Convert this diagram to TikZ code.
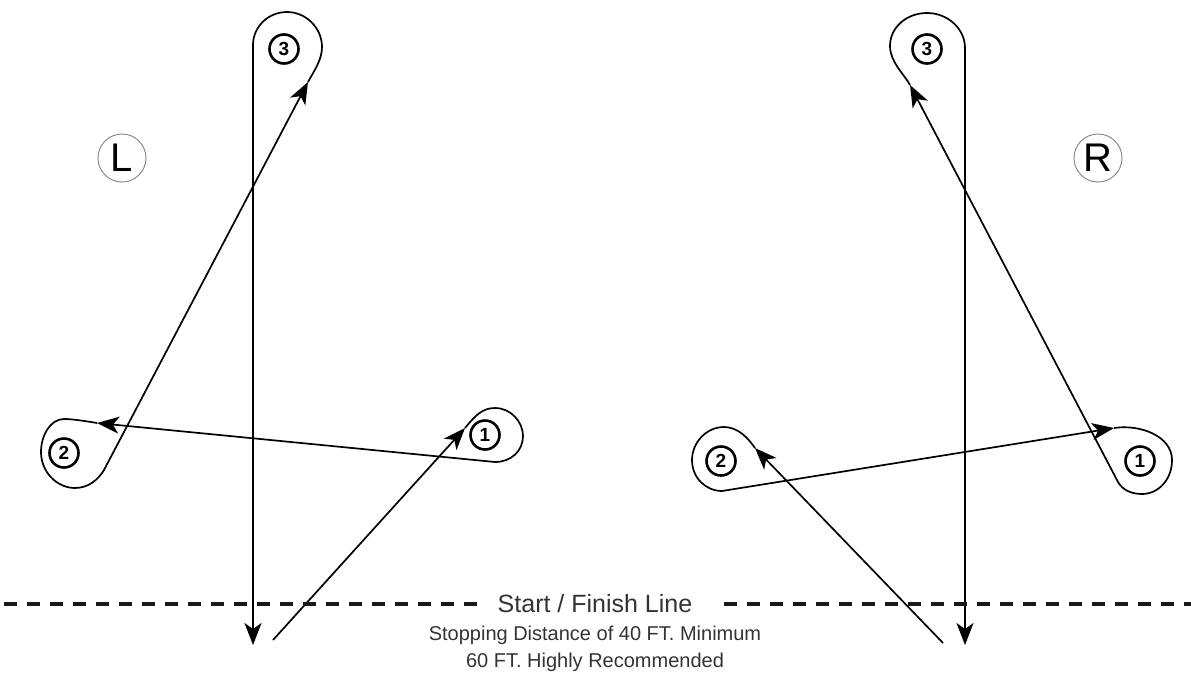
\documentclass[tikz,border=0pt]{standalone}
\usepackage{fontspec}
\setmainfont{Liberation Sans}
\usetikzlibrary{arrows.meta}
\begin{document}
\begin{tikzpicture}[x=1pt,y=-1pt,
  route/.style={line width=1.7pt, black, line join=round},
  arr/.style={route, -{Stealth[length=22pt,width=17pt,inset=6pt]}},
  num/.style={circle, draw, line width=2.6pt, minimum size=29pt, inner sep=0pt,
    font=\fontsize{19}{19}\selectfont\bfseries},
  side/.style={circle, draw=black!45, line width=1pt, minimum size=48pt, inner sep=0pt,
    font=\fontsize{40}{40}\selectfont},
  dashline/.style={line width=4pt, black!90, dash pattern=on 13pt off 10pt},
  title/.style={anchor=base, text=black!80, font=\fontsize{25}{25}\selectfont},
  note/.style={anchor=base, text=black!80, font=\fontsize{20}{20}\selectfont}]
\useasboundingbox (0,0) rectangle (1191,678);

% ---------- left course ----------
\node[side] (L) at (122,158) {L};
\node[num] (l1) at (485,435) {1};
\node[num] (l2) at (64,453) {2};
\node[num] (l3) at (284,49) {3};

\coordinate (Ls)  at (273,640);
\coordinate (La1) at (465,428);
\coordinate (Lb1) at (495,462);
\coordinate (La2) at (97,423);
\coordinate (Lb2) at (104,470);
\coordinate (La3) at (308,82);
\coordinate (Lb3) at (253,45);
\coordinate (Lf)  at (253,645);

\draw[arr] (Ls) -- (La1);
\draw[arr] (La1) .. controls (475,416) and (482,408) .. (495,408)
  .. controls (511,408) and (523,422) .. (523,436)
  .. controls (523,451) and (511,462) .. (Lb1) -- (La2);
\draw[arr] (La2) .. controls (85,421) and (72,419) .. (64,419)
  .. controls (50,419) and (41,436) .. (41,452)
  .. controls (41,472) and (57,488) .. (75,488)
  .. controls (88,488) and (98,480) .. (Lb2) -- (La3);
\draw[arr] (La3) .. controls (314,71) and (322,60) .. (322,47)
  .. controls (322,28) and (306,12) .. (287,12)
  .. controls (268,12) and (253,27) .. (Lb3) -- (Lf);

% ---------- right course ----------
\node[side] (R) at (1098,158) {R};
\node[num] (r1) at (1140,461) {1};
\node[num] (r2) at (721,461) {2};
\node[num] (r3) at (927,49) {3};

\coordinate (Rs)  at (943,643);
\coordinate (Ra2) at (755,448);
\coordinate (Rb2) at (722,491);
\coordinate (Ra1) at (1114,428);
\coordinate (Rb1) at (1118,482);
\coordinate (Ra3) at (910,85);
\coordinate (Rb3) at (965,48);
\coordinate (Rf)  at (965,645);

\draw[arr] (Rs) -- (Ra2);
\draw[arr] (Ra2) .. controls (748,438) and (738,427) .. (724,427)
  .. controls (706,427) and (692,443) .. (692,460)
  .. controls (692,478) and (706,491) .. (Rb2) -- (Ra1);
\draw[arr] (Ra1) .. controls (1140,424) and (1172,436) .. (1172,460)
  .. controls (1172,480) and (1158,494) .. (1142,494)
  .. controls (1130,494) and (1122,489) .. (Rb1) -- (Ra3);
\draw[arr] (Ra3) .. controls (904,74) and (890,62) .. (890,46)
  .. controls (890,27) and (907,13) .. (927,13)
  .. controls (948,13) and (965,29) .. (Rb3) -- (Rf);

% ---------- start / finish line ----------
\coordinate (d1a) at (4,604);
\coordinate (d1b) at (478,604);
\coordinate (d2a) at (724,604);
\coordinate (d2b) at (1191,604);
\draw[dashline] (d1a) -- (d1b);
\draw[dashline] (d2a) -- (d2b);

\node[title] (sf) at (595,612) {Start / Finish Line};
\node[note] (n1) at (595,640) {Stopping Distance of 40 FT. Minimum};
\node[note] (n2) at (595,667) {60 FT. Highly Recommended};
\end{tikzpicture}
\end{document}
